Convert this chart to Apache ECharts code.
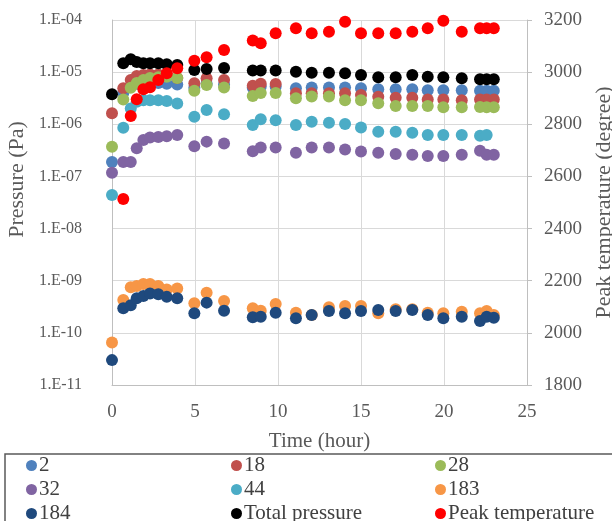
<!DOCTYPE html>
<html>
<head>
<meta charset="utf-8">
<script src="https://cdn.jsdelivr.net/npm/echarts@6/dist/echarts.min.js"></script>
<style>
html,body{margin:0;padding:0;background:#fff;overflow:hidden;width:612px;height:521px;}
#chart{width:612px;height:521px;position:absolute;left:0;top:0;}
</style>
</head>
<body>
<div id="chart"></div>
<script>
// Time (hour)
const times = [0, 0.68, 1.13, 1.49, 1.89, 2.29, 2.79, 3.3, 3.93, 4.96, 5.7, 6.75, 8.48, 8.96, 9.86, 11.08, 12.03, 13.07, 14.04, 15.0, 16.04, 17.09, 18.09, 19.02, 19.96, 21.07, 22.17, 22.57, 23.0];

// Pressure (Pa) per mass
const p2   = [1.9e-7, 4.0e-6, 5.5e-6, 6.0e-6, 6.3e-6, 6.3e-6, 6.2e-6, 6.0e-6, 5.8e-6, 5.0e-6, 6.0e-6, 5.8e-6, 5.0e-6, 5.3e-6, 5.3e-6, 4.9e-6, 5.1e-6, 5.1e-6, 5.1e-6, 4.9e-6, 4.7e-6, 4.7e-6, 4.7e-6, 4.5e-6, 4.5e-6, 4.5e-6, 4.4e-6, 4.4e-6, 4.4e-6];
const p18  = [1.63e-6, 4.9e-6, 7.1e-6, 8.4e-6, 8.8e-6, 9.0e-6, 9.0e-6, 8.5e-6, 7.7e-6, 6.1e-6, 7.6e-6, 7.1e-6, 5.5e-6, 6.0e-6, 5.9e-6, 3.93e-6, 3.93e-6, 3.93e-6, 3.93e-6, 3.65e-6, 3.38e-6, 3.24e-6, 3.24e-6, 3.0e-6, 3.0e-6, 2.9e-6, 3.0e-6, 3.0e-6, 3.0e-6];
const p28  = [3.7e-7, 3.0e-6, 5.0e-6, 6.2e-6, 7.1e-6, 7.7e-6, 8.0e-6, 8.2e-6, 7.7e-6, 4.4e-6, 5.66e-6, 5.1e-6, 3.5e-6, 4.0e-6, 4.0e-6, 3.15e-6, 3.4e-6, 3.4e-6, 2.9e-6, 2.9e-6, 2.52e-6, 2.24e-6, 2.24e-6, 2.24e-6, 2.12e-6, 2.12e-6, 2.15e-6, 2.12e-6, 2.12e-6];
const p32  = [1.18e-7, 1.9e-7, 1.9e-7, 3.47e-7, 5.0e-7, 5.6e-7, 5.7e-7, 5.9e-7, 6.2e-7, 3.8e-7, 4.65e-7, 4.3e-7, 3.05e-7, 3.6e-7, 3.6e-7, 2.85e-7, 3.6e-7, 3.6e-7, 3.3e-7, 3.0e-7, 2.85e-7, 2.7e-7, 2.6e-7, 2.47e-7, 2.47e-7, 2.6e-7, 3.1e-7, 2.6e-7, 2.6e-7];
const p44  = [4.4e-8, 8.6e-7, 2.0e-6, 2.7e-6, 2.9e-6, 2.9e-6, 2.9e-6, 2.8e-6, 2.5e-6, 1.4e-6, 1.88e-6, 1.55e-6, 9.7e-7, 1.25e-6, 1.2e-6, 9.7e-7, 1.12e-6, 1.07e-6, 1.01e-6, 8.7e-7, 7.2e-7, 7.2e-7, 6.9e-7, 6.2e-7, 6.2e-7, 6.2e-7, 6.0e-7, 6.2e-7, null];
const p183 = [6.5e-11, 4.27e-10, 7.5e-10, 7.9e-10, 8.65e-10, 8.65e-10, 7.9e-10, 6.8e-10, 7.1e-10, 3.7e-10, 5.9e-10, 4.1e-10, 2.95e-10, 2.65e-10, 3.57e-10, 2.43e-10, 2.2e-10, 3.1e-10, 3.27e-10, 3.27e-10, 2.37e-10, 2.83e-10, 2.83e-10, 2.43e-10, 2.37e-10, 2.55e-10, 2.37e-10, 2.62e-10, 2.2e-10];
const p184 = [3.0e-11, 2.95e-10, 3.4e-10, 4.6e-10, 5.1e-10, 5.7e-10, 5.5e-10, 4.9e-10, 4.6e-10, 2.37e-10, 3.8e-10, 2.66e-10, 1.99e-10, 2.03e-10, 2.43e-10, 1.9e-10, 2.2e-10, 2.62e-10, 2.37e-10, 2.62e-10, 2.74e-10, 2.62e-10, 2.74e-10, 2.2e-10, 1.9e-10, 2.03e-10, 1.69e-10, 2.03e-10, 1.94e-10];
const pTotal = [3.76e-6, 1.48e-5, 1.76e-5, 1.56e-5, 1.48e-5, 1.48e-5, 1.48e-5, 1.41e-5, 1.37e-5, 1.10e-5, 1.15e-5, 1.20e-5, 1.08e-5, 1.08e-5, 1.07e-5, 1.02e-5, 9.75e-6, 9.75e-6, 9.5e-6, 8.8e-6, 7.96e-6, 7.96e-6, 8.8e-6, 8.2e-6, 7.96e-6, 7.62e-6, 7.3e-6, 7.3e-6, 7.3e-6];
// Peak temperature (degree)
const peakTemp = [null, 2513, 2832, 2896, 2934, 2942, 2970, 2996, 3015, 3044, 3057, 3085, 3121, 3111, 3149, 3168, 3149, 3155, 3193, 3149, 3149, 3149, 3155, 3168, 3197, 3155, 3168, 3168, 3168];

const seriesNames = ['2', '18', '28', '32', '44', '183', '184', 'Total pressure', 'Peak temperature'];
const seriesColors = ['#4F81BD', '#C0504D', '#9BBB59', '#8064A2', '#4BACC6', '#F79646', '#1F497D', '#000000', '#FF0000'];
const seriesValues = [p2, p18, p28, p32, p44, p183, p184, pTotal, peakTemp];

const leftTicks = [1e-11, 1e-10, 1e-9, 1e-8, 1e-7, 1e-6, 1e-5, 1e-4];
const rightTicks = [1800, 2000, 2200, 2400, 2600, 2800, 3000, 3200];
const xTicks = [0, 5, 10, 15, 20, 25];

const legendCols = [['2', '32', '184'], ['18', '44', 'Total pressure'], ['28', '183', 'Peak temperature']];

const FONT = '"Liberation Serif", "Times New Roman", serif';

function pairs(vals) {
  const out = [];
  times.forEach((t, i) => { if (vals[i] != null) out.push([t, vals[i]]); });
  return out;
}

const series = seriesNames.map((name, k) => ({
  name: name,
  type: 'scatter',
  yAxisIndex: name === 'Peak temperature' ? 1 : 0,
  symbol: 'circle',
  symbolSize: 12,
  itemStyle: { color: seriesColors[k], opacity: 1 },
  data: pairs(seriesValues[k]),
  z: 2 + k
}));

const chart = echarts.init(document.getElementById('chart'), null, { renderer: 'canvas', width: 612, height: 521 });
const legendLefts = [26, 231, 435];
chart.setOption({
  animation: false,
  backgroundColor: '#ffffff',
  grid: { left: 112, right: 85, top: 20, bottom: 136, containLabel: false, outerBoundsMode: 'none' },
  xAxis: {
    type: 'value', min: xTicks[0], max: xTicks[xTicks.length - 1], interval: 5,
    name: 'Time (hour)', nameLocation: 'middle', nameGap: 46,
    nameTextStyle: { fontFamily: FONT, fontSize: 21, color: '#595959' },
    axisLine: { show: true, lineStyle: { color: '#BFBFBF', width: 1 } },
    axisTick: { show: false },
    axisLabel: { margin: 18, fontFamily: FONT, fontSize: 19, color: '#595959' },
    splitLine: { show: true, lineStyle: { color: '#D9D9D9', width: 1 } }
  },
  yAxis: [
    {
      type: 'log', logBase: 10, min: leftTicks[0], max: leftTicks[leftTicks.length - 1], splitNumber: 7,
      name: 'Pressure (Pa)', nameLocation: 'middle', nameGap: 80, nameRotate: 90,
      nameTextStyle: { fontFamily: FONT, fontSize: 22, color: '#595959', padding: [0, 0, 0, 46] },
      axisLine: { show: true, lineStyle: { color: '#BFBFBF', width: 1 } },
      axisTick: { show: false },
      axisLabel: {
        margin: 30, fontFamily: FONT, fontSize: 16, color: '#595959',
        formatter: v => { const e = Math.round(Math.log10(v)); return '1.E-' + String(-e).padStart(2, '0'); }
      },
      splitLine: { show: true, lineStyle: { color: '#D9D9D9', width: 1 } }
    },
    {
      type: 'value', position: 'right', min: rightTicks[0], max: rightTicks[rightTicks.length - 1], interval: 200,
      name: 'Peak temperature (degree)', nameLocation: 'middle', nameGap: 66, nameRotate: 90,
      nameTextStyle: { fontFamily: FONT, fontSize: 22, color: '#595959' },
      axisLine: { show: true, lineStyle: { color: '#BFBFBF', width: 1 } },
      axisTick: { show: true, inside: false, length: 5, lineStyle: { color: '#BFBFBF' } },
      axisLabel: { margin: 17, fontFamily: FONT, fontSize: 19, color: '#595959', formatter: v => String(v) },
      splitLine: { show: false }
    }
  ],
  legend: legendCols.map((col, c) => ({
    data: col,
    orient: 'vertical',
    left: legendLefts[c],
    top: 455,
    width: 200,
    height: 90,
    padding: 0,
    itemWidth: 11, itemHeight: 11, itemGap: 3,
    icon: 'circle',
    selectedMode: false,
    textStyle: { fontFamily: FONT, fontSize: 21, color: '#404040', padding: [0, 0, 0, -3] }
  })),
  graphic: [
    { type: 'rect', shape: { x: 5, y: 454, width: 640, height: 90 }, style: { fill: 'none', stroke: '#595959', lineWidth: 1.5 }, silent: true }
  ],
  series: series
});
</script>
</body>
</html>
